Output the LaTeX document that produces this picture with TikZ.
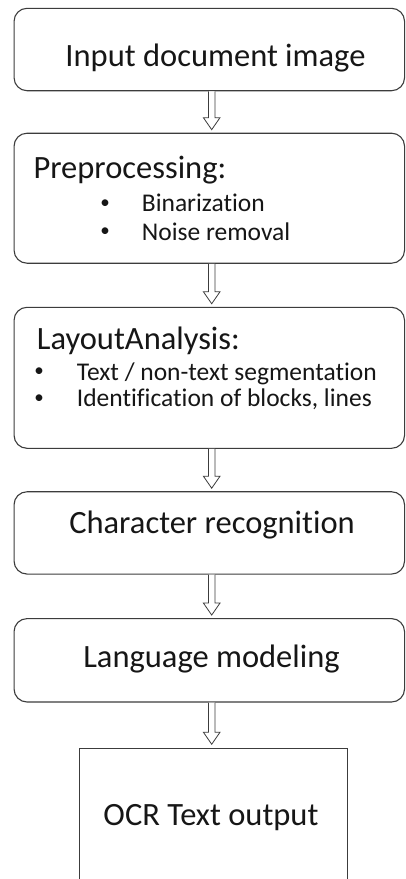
\documentclass[tikz,border=0pt]{standalone}
\usepackage{fontspec}
\setmainfont[Ligatures={NoCommon}]{Carlito}
\usetikzlibrary{calc}

\definecolor{edge}{HTML}{3C3C3C}
\definecolor{ink}{HTML}{161616}

\tikzset{
  stage/.style={draw=edge, line width=1.1pt, rounded corners=13pt, fill=white,
                inner sep=0pt, minimum width=390.5pt},
  outbox/.style={draw=edge, line width=1.1pt, fill=white, inner sep=0pt,
                 minimum width=268.3pt},
  title/.style={font=\fontsize{32.5}{36}\selectfont, text=ink, inner sep=0pt},
  item/.style={font=\fontsize{25.5}{30}\selectfont, text=ink, inner sep=0pt},
  dot/.style={font=\fontsize{19}{22}\selectfont, text=ink, inner sep=0pt},
  % hollow block arrow running from the start point down to the end point
  flow/.style={draw=edge, line width=0.8pt, fill=white, line join=miter,
    to path={
      let \p1=(\tikztostart), \p2=(\tikztotarget) in
      (\x1-3.3pt,\y1) -- (\x1-3.3pt,\y2+12pt) -- (\x1-8.3pt,\y2+12pt)
      -- (\x1,\y2) -- (\x1+8.3pt,\y2+12pt) -- (\x1+3.3pt,\y2+12pt)
      -- (\x1+3.3pt,\y1)}}
}

\begin{document}
\begin{tikzpicture}[x=1pt,y=-1pt]
  \useasboundingbox (0,0) rectangle (406,879);
  \fill[white] (0,0) rectangle (406,879);
  \clip (0,0) rectangle (406,879);

  % processing stages
  \node[stage, minimum height=82.4pt]  (input)  at (209.3,49.5)  {};
  \node[stage, minimum height=130pt]   (prep)   at (209.3,198.2) {};
  \node[stage, minimum height=141pt]   (layout) at (209.3,377.8) {};
  \node[stage, minimum height=82.3pt]  (chars)  at (209.3,532.9) {};
  \node[stage, minimum height=83.4pt]  (lang)   at (209.3,660.3) {};
  \node[outbox, minimum height=180pt]  (ocr)    at (213.2,838.3) {};

  % labels
  \node[title, anchor=base] (tInput) at (215.5,66.7) {Input document image};

  \node[title, anchor=base west] (tPrep) at (33.3,178.3) {Preprocessing:};
  \node[dot, anchor=base] (bPrepA) at (105,208.5) {\textbullet};
  \node[item, anchor=base west] (iPrepA) at (141.7,211.7) {Binarization};
  \node[dot, anchor=base] (bPrepB) at (105,236.8) {\textbullet};
  \node[item, anchor=base west] (iPrepB) at (141.7,240) {Noise removal};

  \node[title, anchor=base west] (tLayout) at (36.7,349) {LayoutAnalysis:};
  \node[dot, anchor=base] (bLayA) at (39,376.8) {\textbullet};
  \node[item, anchor=base west] (iLayA) at (76.7,380) {Text / non-text segmentation};
  \node[dot, anchor=base] (bLayB) at (39,403.5) {\textbullet};
  \node[item, anchor=base west] (iLayB) at (76.7,406.7) {Identification of blocks, lines};

  \node[title, anchor=base] (tChars) at (212,533) {Character recognition};
  \node[title, anchor=base] (tLang)  at (211.5,667) {Language modeling};
  \node[title, anchor=base] (tOcr)   at (211,825) {OCR Text output};

  % connectors between the stages
  \draw[flow] ([xshift=2.4pt]input.south)  to ([xshift=2.4pt,yshift=3pt]prep.north);
  \draw[flow] ([xshift=2.4pt]prep.south)   to ([xshift=2.4pt,yshift=3pt]layout.north);
  \draw[flow] ([xshift=2.4pt]layout.south) to ([xshift=2.4pt,yshift=3pt]chars.north);
  \draw[flow] ([xshift=2.4pt]chars.south)  to ([xshift=2.4pt,yshift=3pt]lang.north);
  \draw[flow] ([xshift=2.4pt]lang.south)   to ([yshift=3.5pt,xshift=-1.5pt]ocr.north);
\end{tikzpicture}
\end{document}
